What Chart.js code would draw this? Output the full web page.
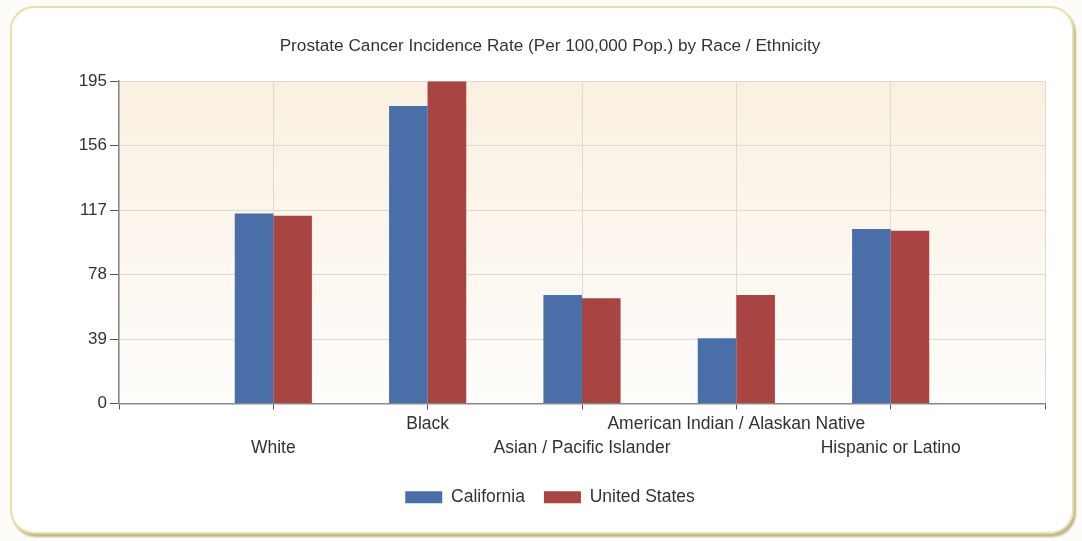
<!DOCTYPE html>
<html>
<head>
<meta charset="utf-8">
<script src="https://cdn.jsdelivr.net/npm/chart.js@4.4.1/dist/chart.umd.min.js"></script>
<style>
  html, body { margin: 0; padding: 0; background: #fdfcf8; }
  #frame {
    position: absolute; left: 10px; top: 6px; width: 1060px; height: 524px;
    border: 2px solid #e8deae; border-radius: 24px; background: #fff;
    box-shadow: 2px 3px 2px #c2b88e;
  }
  #wrap { position: absolute; left: 0; top: 0; width: 1082px; height: 541px; }
</style>
</head>
<body>
<div id="frame"></div>
<div id="wrap"><canvas id="chart" width="1082" height="541"></canvas></div>
<script>
var categories = ['White', 'Black', 'Asian / Pacific Islander', 'American Indian / Alaskan Native', 'Hispanic or Latino'];
var california = [115, 180, 65.6, 39.4, 105.5];
var unitedStates = [113.5, 195, 63.6, 65.6, 104.5];
var yTicks = [0, 39, 78, 117, 156, 195];

// labels alternate between the lower and upper row, with an empty slot at each end
var labels = [''].concat(categories.map(function (c, i) {
  return i % 2 === 0 ? ['', c] : [c, ''];
})).concat(['']);
var pad = function (arr) { return [null].concat(arr).concat([null]); };

var FONT = '"Liberation Sans", Arial, sans-serif';

var plotBg = {
  id: 'plotBg',
  beforeDraw: function (chart) {
    var a = chart.chartArea, ctx = chart.ctx;
    var g = ctx.createLinearGradient(0, a.top, 0, a.bottom);
    g.addColorStop(0, '#faf0e1');
    g.addColorStop(1, '#fefdfb');
    ctx.save();
    ctx.fillStyle = g;
    ctx.fillRect(a.left, a.top, a.right - a.left, a.bottom - a.top);
    ctx.restore();
  }
};

new Chart(document.getElementById('chart'), {
  type: 'bar',
  data: {
    labels: labels,
    datasets: [
      { label: 'California', data: pad(california), backgroundColor: '#4a6ea8', borderWidth: 0 },
      { label: 'United States', data: pad(unitedStates), backgroundColor: '#a84442', borderWidth: 0 }
    ]
  },
  plugins: [plotBg],
  options: {
    responsive: false,
    animation: false,
    categoryPercentage: 0.5,
    barPercentage: 1.0,
    layout: { padding: { left: 55, right: 37, top: 10, bottom: 25 } },
    plugins: {
      title: {
        display: true,
        text: 'Prostate Cancer Incidence Rate (Per 100,000 Pop.) by Race / Ethnicity',
        color: '#333',
        font: { family: FONT, size: 17.2, weight: 'normal' },
        padding: { top: 26, bottom: 24.5 }
      },
      legend: {
        position: 'bottom',
        labels: {
          color: '#333',
          font: { family: FONT, size: 17.5 },
          boxWidth: 37, boxHeight: 12, padding: 19
        }
      },
      tooltip: { enabled: false }
    },
    scales: {
      x: {
        offset: false,
        grid: { offset: false, color: '#dedad2', tickColor: '#555', tickLength: 6 },
        border: { color: '#8a8a8a', width: 1.5 },
        ticks: {
          color: '#333', font: { family: FONT, size: 17.5, lineHeight: 24 / 17.5 },
          padding: 3, maxRotation: 0, autoSkip: false
        },
        afterFit: function (s) { s.height = 66; }
      },
      y: {
        min: 0, max: 195,
        afterBuildTicks: function (s) { s.ticks = yTicks.map(function (v) { return { value: v }; }); },
        grid: { color: '#dedad2', tickColor: '#555', tickLength: 9 },
        border: { color: '#8a8a8a', width: 1.5 },
        ticks: { color: '#333', font: { family: FONT, size: 17 }, padding: 3 },
        afterFit: function (s) { s.width = 64; }
      }
    }
  }
});
</script>
</body>
</html>
